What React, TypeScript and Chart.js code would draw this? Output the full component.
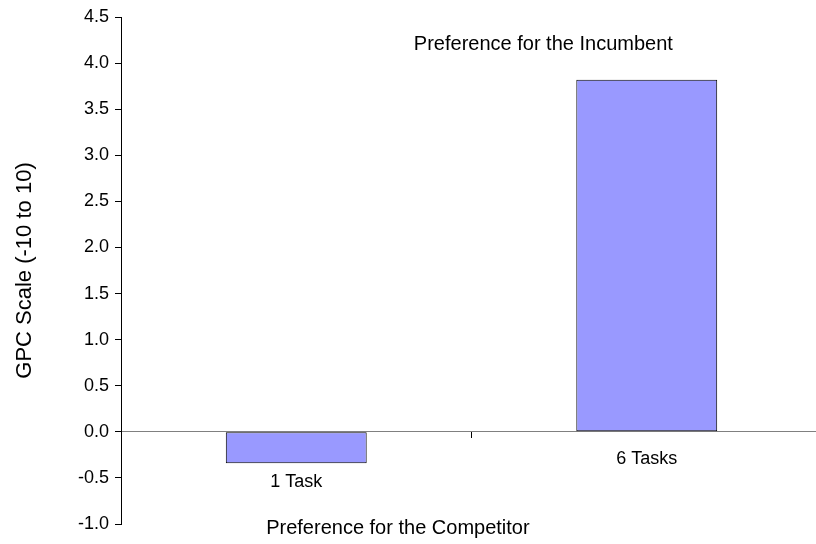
import React, { useEffect, useRef } from "react";
import { Chart, registerables } from "chart.js";

Chart.register(...registerables);

const categories = ["1 Task", "6 Tasks"];
const gpcValues = [-0.34, 3.82];
const yMin = -1.0;
const yMax = 4.5;
const yStep = 0.5;
const yAxisTitle = "GPC Scale (-10 to 10)";
const topNote = "Preference for the Incumbent";
const bottomNote = "Preference for the Competitor";

const FONT = "'Liberation Sans', Arial, Helvetica, sans-serif";

const annotationPlugin = {
  id: "annotations",
  afterDatasetsDraw(chart: any) {
    const { ctx, scales } = chart;
    const xs = scales.x;
    const ys = scales.y;
    ctx.save();
    ctx.fillStyle = "#000";
    ctx.textAlign = "center";
    ctx.textBaseline = "middle";
    const labelYVals = [-0.55, -0.3];
    ctx.font = `18px ${FONT}`;
    categories.forEach((c, i) => {
      ctx.fillText(c, xs.getPixelForValue(i), ys.getPixelForValue(labelYVals[i]));
    });
    ctx.font = `20px ${FONT}`;
    ctx.fillText(topNote, xs.getPixelForValue(0.705), ys.getPixelForValue(4.2));
    ctx.fillText(bottomNote, xs.getPixelForValue(0.29), ys.getPixelForValue(-1.05));
    ctx.restore();
  },
};

export default function App() {
  const ref = useRef<HTMLCanvasElement>(null);
  useEffect(() => {
    const chart = new Chart(ref.current as HTMLCanvasElement, {
      type: "bar",
      data: {
        labels: categories,
        datasets: [
          {
            data: gpcValues,
            backgroundColor: "#9999FF",
            borderColor: "#000",
            borderWidth: 1,
            borderSkipped: false,
            categoryPercentage: 1,
            barPercentage: 0.402,
          },
        ],
      },
      options: {
        animation: false,
        responsive: false,
        devicePixelRatio: 1,
        layout: { padding: { top: 17, bottom: 20, left: 0, right: 8 } },
        plugins: { legend: { display: false }, tooltip: { enabled: false } },
        scales: {
          x: {
            position: { y: 0 } as any,
            ticks: { display: false },
            grid: { drawOnChartArea: false, drawTicks: true, tickLength: 6, color: "#000" },
            border: { display: true, color: "#808080", width: 1 },
          },
          y: {
            min: yMin,
            max: yMax,
            ticks: {
              stepSize: yStep,
              padding: 6,
              color: "#000",
              font: { family: FONT, size: 18 },
              callback: (v: any) => Number(v).toFixed(1),
            },
            grid: { drawOnChartArea: false, drawTicks: true, tickLength: 6, color: "#000" },
            border: { display: true, color: "#000", width: 1 },
            title: {
              display: true,
              text: yAxisTitle,
              color: "#000",
              font: { family: FONT, size: 22 },
              padding: { top: 12, bottom: 0 },
            },
            afterFit: (scale: any) => {
              scale.width = 121;
            },
          },
        },
      },
      plugins: [annotationPlugin],
    });
    return () => chart.destroy();
  }, []);
  return (
    <div style={{ position: "fixed", left: 0, top: 0, width: 816, height: 544, overflow: "hidden", background: "#fff" }}>
      <canvas ref={ref} width={830} height={544} />
    </div>
  );
}
